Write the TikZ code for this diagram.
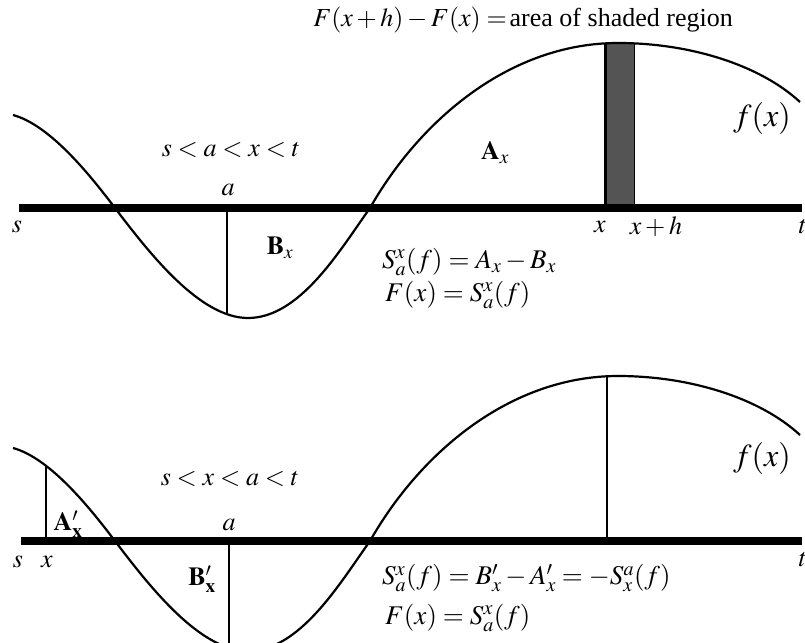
\documentclass[tikz,border=0pt]{standalone}
\usepackage{mathptmx}
\usepackage[no-math]{fontspec}
\setmainfont{Liberation Serif}
\usetikzlibrary{intersections}
\def\mycurvepath{(13,115) .. controls (50,125) and (90,175) .. (115,208) .. controls (150,254) and (200,318) .. (248,318) .. controls (300,318) and (340,250) .. (370,208) .. controls (420,120) and (510,43) .. (618,43) .. controls (690,43) and (760,65) .. (800,102)}
\begin{document}
\begin{tikzpicture}[x=1pt,y=-1pt,
  curve/.style={line width=2.2pt},
  axisline/.style={line width=7.5pt},
  vline/.style={line width=1.8pt},
  lab/.style={inner sep=0pt, font=\fontsize{26}{30}\selectfont},
  eqlab/.style={inner sep=0pt, anchor=west, font=\fontsize{27}{30}\selectfont},
  biglab/.style={inner sep=0pt, font=\fontsize{32}{36}\selectfont}]
\useasboundingbox (0,0) rectangle (805,642);
\clip (0,0) rectangle (805,642);

% ---------- top panel ----------
\fill[black!67] (604,44) rectangle (635,208);
\draw[line width=3pt] (605.5,44) -- (605.5,208);
\draw[line width=0.8pt] (634.6,44) -- (634.6,208);
\draw[axisline] (19,208) -- (802,208);
\draw[curve, name path=ctop] \mycurvepath;
\path[name path=vtopa] (227,150) -- (227,340);
\draw[vline, name intersections={of=ctop and vtopa}] (227,208) -- (intersection-1);

\node[lab] (title) at (523,20) {$F(x+h)-F(x)=\,$area of shaded region};
\node[lab] (ordtop) at (231,150) {$s<a<x<t$};
\node[lab] (Ax) at (495,153) {$\mathbf{A}_{x}$};
\node[biglab] (ftop) at (762,118) {$f(x)$};
\node[lab] (atop) at (228,190) {$a$};
\node[lab] (stop) at (17,227) {$s$};
\node[lab] (xtop) at (600,227) {$x$};
\node[lab] (xhtop) at (656,227) {$x+h$};
\node[lab] (ttop) at (803,227) {$t$};
\node[lab] (Bx) at (280,248) {$\mathbf{B}_{x}$};
\node[eqlab] (eqtopa) at (382,262) {$S_a^x(f)=A_x-B_x$};
\node[eqlab] (eqtopb) at (385,295) {$F(x)=S_a^x(f)$};

% ---------- bottom panel ----------
\begin{scope}[shift={(0,333)}]
\draw[axisline] (21,208) -- (802,208);
\draw[curve, name path=cbot] \mycurvepath;
\path[name path=vbotx] (46,100) -- (46,220);
\draw[vline, name intersections={of=cbot and vbotx}] (46,208) -- (intersection-1);
\draw[vline] (229,208) -- (229,320);
\path[name path=vbotm] (607,20) -- (607,220);
\draw[vline, name intersections={of=cbot and vbotm}] (607,208) -- (intersection-1);

\node[biglab] (fbot) at (762,125) {$f(x)$};
\node[lab] (ordbot) at (230,146) {$s<x<a<t$};
\node[lab] (Apx) at (68,191) {$\mathbf{A}_{\mathbf{x}}^{\prime}$};
\node[lab] (abot) at (229,192) {$a$};
\node[lab] (sbot) at (18,229) {$s$};
\node[lab] (xbot) at (47,229) {$x$};
\node[lab] (tbot) at (803,227) {$t$};
\node[lab] (Bpx) at (202,246) {$\mathbf{B}_{\mathbf{x}}^{\prime}$};
\node[eqlab] (eqbota) at (382,245) {$S_a^x(f)=B_x^{\prime}-A_x^{\prime}=-S_x^a(f)$};
\node[eqlab] (eqbotb) at (385,285) {$F(x)=S_a^x(f)$};
\end{scope}
\end{tikzpicture}
\end{document}
